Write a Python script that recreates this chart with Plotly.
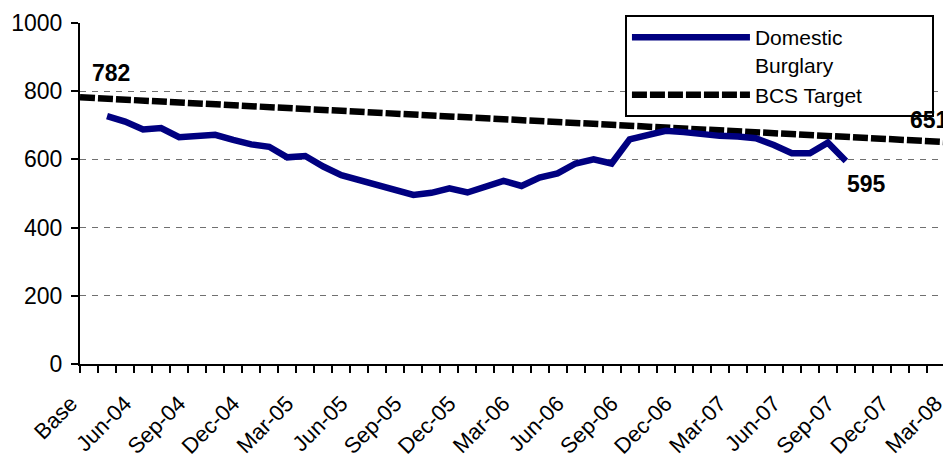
import plotly.graph_objects as go

categories = ["Base", "Apr-04", "May-04", "Jun-04", "Jul-04", "Aug-04", "Sep-04", "Oct-04", "Nov-04",
              "Dec-04", "Jan-05", "Feb-05", "Mar-05", "Apr-05", "May-05", "Jun-05", "Jul-05", "Aug-05",
              "Sep-05", "Oct-05", "Nov-05", "Dec-05", "Jan-06", "Feb-06", "Mar-06", "Apr-06", "May-06",
              "Jun-06", "Jul-06", "Aug-06", "Sep-06", "Oct-06", "Nov-06", "Dec-06", "Jan-07", "Feb-07",
              "Mar-07", "Apr-07", "May-07", "Jun-07", "Jul-07", "Aug-07", "Sep-07", "Oct-07", "Nov-07",
              "Dec-07", "Jan-08", "Feb-08", "Mar-08"]

shown_labels = ["Base", "Jun-04", "Sep-04", "Dec-04", "Mar-05", "Jun-05", "Sep-05", "Dec-05", "Mar-06",
                "Jun-06", "Sep-06", "Dec-06", "Mar-07", "Jun-07", "Sep-07", "Dec-07", "Mar-08"]

burglary_months = categories[1:43]
burglary_values = [727, 711, 688, 692, 665, 669, 672, 657, 644, 637,
                   606, 610, 579, 554, 540, 528, 512, 496, 502, 515,
                   503, 522, 537, 522, 547, 559, 588, 600, 588, 659,
                   671, 684, 680, 673, 669, 667, 662, 642, 618, 618,
                   649, 595]

target_months = ["Base", "Mar-08"]
target_values = [782, 651]

FONT = "Arial, 'Liberation Sans', sans-serif"
NB = "\u00a0"

fig = go.Figure()

fig.add_trace(go.Scatter(
    x=burglary_months, y=burglary_values, mode="lines",
    name="Domestic<br>Burglary", xaxis="x2", yaxis="y",
    line=dict(color="#000080", width=6.5),
))
fig.add_trace(go.Scatter(
    x=target_months, y=target_values, mode="lines",
    name="BCS Target" + NB * 11, xaxis="x", yaxis="y",
    line=dict(color="#000000", width=6.5, dash="15px,3px"),
))

ticktext = [c if c in shown_labels else "" for c in categories]

# the page body has an 8px margin, so the figure is sized to fill the rest of the window
fig.update_layout(
    width=943, height=446,
    margin=dict(l=72, r=6, t=15, b=90, autoexpand=False),
    paper_bgcolor="white", plot_bgcolor="white",
    font=dict(family=FONT, color="black", size=22),
    showlegend=True,
    xaxis=dict(
        type="category", categoryorder="array", categoryarray=categories,
        range=[0, len(categories) - 1], automargin=False,
        tickmode="array", tickvals=categories, ticktext=ticktext,
        ticks="outside", ticklen=7, tickwidth=2, tickcolor="black",
        showline=True, linecolor="black", linewidth=2,
        showgrid=False, zeroline=False, tickangle=-45,
        ticklabelshift=-9, ticklabelstandoff=9,
        tickfont=dict(family=FONT, size=22, color="black"),
    ),
    xaxis2=dict(
        type="category", categoryorder="array", categoryarray=categories,
        range=[-0.5, len(categories) - 1.5],
        overlaying="x", anchor="y", visible=False,
    ),
    yaxis=dict(
        range=[0, 1000], dtick=200, tick0=0, automargin=False,
        ticks="outside", ticklen=7, tickwidth=2, tickcolor="black",
        showline=True, linecolor="black", linewidth=2,
        showgrid=True, gridcolor="#707070", gridwidth=1, griddash="6px,6px",
        zeroline=False, ticklabelstandoff=4,
        tickfont=dict(family=FONT, size=23, color="black"),
    ),
    legend=dict(
        x=0.630, y=1.0235, xanchor="left", yanchor="top",
        bgcolor="white", bordercolor="black", borderwidth=2,
        font=dict(family=FONT, size=21, color="black"),
        itemwidth=118, valign="top", tracegroupgap=0,
    ),
    annotations=[
        dict(x="Base", y=target_values[0], xref="x", yref="y", text="<b>782</b>",
             showarrow=False, xshift=31, yshift=24, font=dict(family=FONT, size=23, color="black")),
        dict(x="Mar-08", y=target_values[-1], xref="x", yref="y", text="<b>651</b>",
             showarrow=False, xshift=-16, yshift=22, font=dict(family=FONT, size=23, color="black")),
        dict(x=burglary_months[-1], y=burglary_values[-1], xref="x2", yref="y", text="<b>595</b>",
             showarrow=False, xshift=21, yshift=-23, font=dict(family=FONT, size=23, color="black")),
    ],
)

fig.write_html("out.html")
